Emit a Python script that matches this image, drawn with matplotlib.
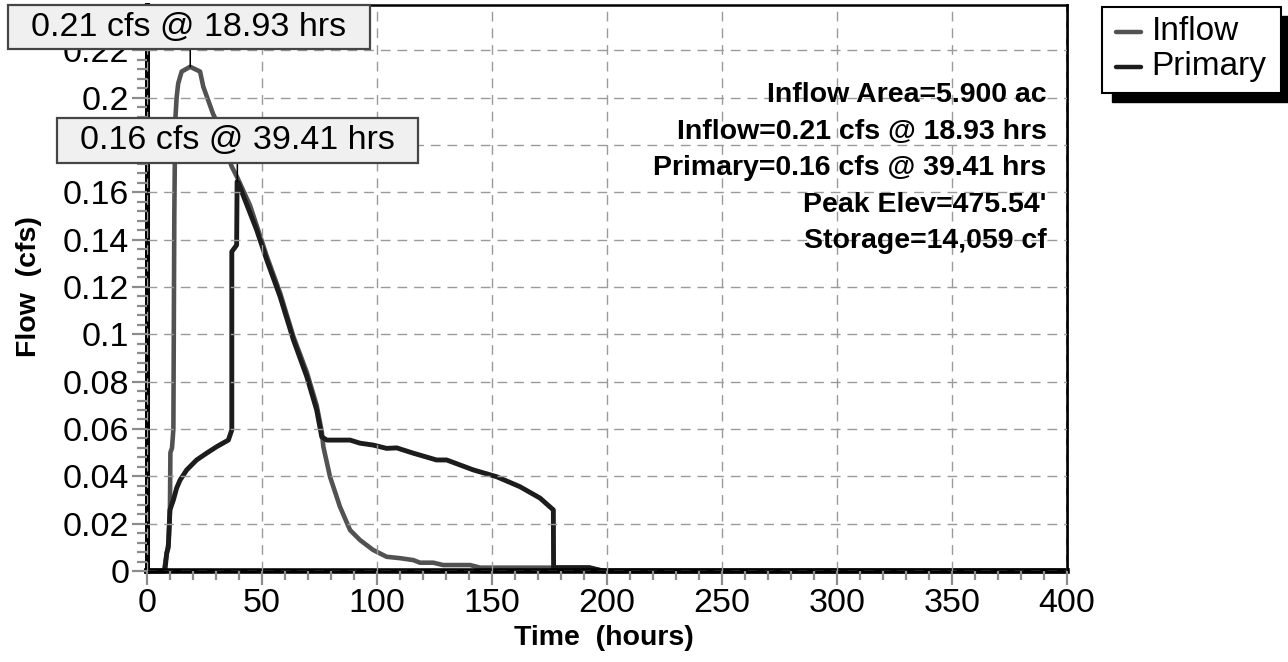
import matplotlib
matplotlib.use("Agg")
import matplotlib.pyplot as plt
from matplotlib.ticker import MultipleLocator, FuncFormatter
from matplotlib.patches import Rectangle
from matplotlib.lines import Line2D

# ---------------- data ----------------
inflow_hours = [0, 7.5, 8.5, 9.5, 10.1, 10.3, 11.0, 11.6, 12.0, 12.4, 13.0, 13.7, 15.2,
                18.9, 23.2, 24.6, 28.9, 30.4, 33.0, 36.9, 39.5, 44.9, 47.8, 52.2, 58.0,
                63.8, 69.6, 73.9, 76.1, 76.8, 79.7, 84.0, 88.4, 92.7, 98.4, 104.3, 110.2,
                115.9, 118.8, 124.6, 128.9, 140.6, 145.0, 176.0, 192.0, 198.0, 400]
inflow_cfs = [0, 0, 0.006, 0.012, 0.026, 0.050, 0.052, 0.060, 0.150, 0.190, 0.200, 0.206, 0.211,
              0.213, 0.211, 0.2046, 0.193, 0.190, 0.182, 0.171, 0.166, 0.1545, 0.146, 0.133, 0.1175,
              0.099, 0.084, 0.070, 0.059, 0.0525, 0.0398, 0.0272, 0.0173, 0.0131, 0.0089, 0.0060, 0.0054,
              0.0046, 0.0035, 0.0035, 0.0025, 0.0025, 0.0014, 0.0014, 0.0014, 0, 0]

primary_hours = [0, 7.9, 8.7, 9.4, 10.1, 11.6, 13.0, 14.5, 17.4, 21.7, 26.1, 30.4, 35.5,
                 37.0, 37.0, 39.1, 39.3, 39.8, 47.8, 52.2, 58.0, 63.8, 69.6, 73.9, 76.1,
                 78.3, 88.4, 92.7, 98.4, 104.3, 108.7, 115.8, 126.0, 130.4, 136.2, 142.0,
                 152.2, 162.3, 171.0, 176.8, 176.9, 192.6, 198.5, 400]
primary_cfs = [0, 0, 0.0076, 0.010, 0.0258, 0.030, 0.035, 0.0384, 0.0427, 0.0469, 0.0498, 0.0525, 0.0553,
               0.0596, 0.1349, 0.1377, 0.1645, 0.164, 0.1441, 0.1314, 0.1159, 0.0976, 0.0821, 0.068, 0.0567,
               0.0553, 0.0553, 0.054, 0.0532, 0.0518, 0.052, 0.0498, 0.0469, 0.0469, 0.0448, 0.0427,
               0.0398, 0.0356, 0.0308, 0.0258, 0.0014, 0.0014, 0, 0]

series_names = ["Inflow", "Primary"]
series_colors = ["#525252", "#1c1c1c"]
peak_times = [18.93, 39.41]
peak_labels = ["0.21 cfs @ 18.93 hrs", "0.16 cfs @ 39.41 hrs"]
info_lines = ["Inflow Area=5.900 ac",
              "Inflow=0.21 cfs @ 18.93 hrs",
              "Primary=0.16 cfs @ 39.41 hrs",
              "Peak Elev=475.54'",
              "Storage=14,059 cf"]
x_label = "Time  (hours)"
y_label = "Flow  (cfs)"

# ---------------- styling ----------------
plt.rcParams['font.family'] = ['Liberation Sans', 'DejaVu Sans']

fig = plt.figure(figsize=(12.88, 6.62), dpi=100)
fig.patch.set_facecolor("white")
ax = fig.add_axes([0.1139, 0.1375, 0.7143, 0.8549])

ax.plot(inflow_hours, inflow_cfs, color=series_colors[0], lw=3.3, zorder=2,
        solid_joinstyle='round', clip_on=False)
ax.plot(primary_hours, primary_cfs, color=series_colors[1], lw=3.5, zorder=2.1,
        solid_joinstyle='round', clip_on=False)

ax.set_xlim(0, 400)
ax.set_ylim(0, 0.2391)
ax.xaxis.set_major_locator(MultipleLocator(50))
ax.xaxis.set_minor_locator(MultipleLocator(10))
ax.yaxis.set_major_locator(MultipleLocator(0.02))
ax.yaxis.set_minor_locator(MultipleLocator(0.004))
ax.yaxis.set_major_formatter(FuncFormatter(lambda v, p: f"{v:g}" if abs(v) > 1e-9 else "0"))
ax.xaxis.set_major_formatter(FuncFormatter(lambda v, p: f"{v:g}"))

tick_col = "#8c8c8c"
ax.tick_params(axis='x', which='major', length=10, width=1.6, color=tick_col,
               labelsize=24.5, pad=2.5)
ax.tick_params(axis='x', which='minor', length=6.5, width=1.6, color=tick_col)
ax.tick_params(axis='y', which='major', length=11, width=1.6, color=tick_col,
               labelsize=24.5, pad=1.5)
ax.tick_params(axis='y', which='minor', length=7, width=1.6, color=tick_col)

ax.set_axisbelow(False)
ax.grid(which='major', color='#9a9a9a', linestyle=(0, (7, 5)), linewidth=1.0)

ax.spines['left'].set_linewidth(3.6)
ax.spines['bottom'].set_linewidth(4.0)
ax.spines['top'].set_linewidth(1.8)
ax.spines['right'].set_linewidth(2.0)
for s in ax.spines.values():
    s.set_color('black')

ax.set_xlabel(x_label, fontsize=20.5, fontweight='bold')
ax.set_ylabel(y_label, fontsize=20.5, fontweight='bold')
ax.xaxis.set_label_coords(0.497, -0.0954)
ax.yaxis.set_label_coords(-0.1133, 0.502)

# ---------------- info text ----------------
info_y = [0.8288, 0.7638, 0.6993, 0.6349, 0.5703]
for line, yy in zip(info_lines, info_y):
    ax.text(0.978, yy, line, transform=ax.transAxes, ha='right', va='baseline',
            fontsize=20.5, fontweight='bold', color='black', zorder=6)

# ---------------- peak annotation boxes ----------------
peak_flows = [max(inflow_cfs), max(primary_cfs)]
boxes = [(-0.1508, 0.9223, 0.3935, 0.0777),
         (-0.0978, 0.7208, 0.3930, 0.0796)]
for (bx, by, bw, bh), label, t, q in zip(boxes, peak_labels, peak_times, peak_flows):
    ax.annotate("", xy=(t, q), xycoords='data',
                xytext=(t, by), textcoords=('data', 'axes fraction'),
                arrowprops=dict(arrowstyle='-', color='black', lw=1.1,
                                shrinkA=0, shrinkB=0), zorder=4)
    ax.add_patch(Rectangle((bx, by), bw, bh, transform=ax.transAxes,
                           facecolor='#f0f0f0', edgecolor='#454545', lw=1.6,
                           clip_on=False, zorder=5))
    ax.text(bx + bw / 2, by + bh / 2, label, transform=ax.transAxes,
            ha='center', va='center', fontsize=24.5, color='black', zorder=6)

# ---------------- legend (with solid shadow) ----------------
fig.patches.append(Rectangle((0.8634, 0.8459), 0.139, 0.1299, transform=fig.transFigure,
                             facecolor='black', edgecolor='black', zorder=1))
fig.patches.append(Rectangle((0.8554, 0.8600), 0.1392, 0.1290, transform=fig.transFigure,
                             facecolor='white', edgecolor='black', lw=1.5, zorder=2))
leg_y = [0.9521, 0.8992]
for name, col, yy in zip(series_names, series_colors, leg_y):
    fig.lines.append(Line2D([0.8662, 0.8862], [yy, yy], transform=fig.transFigure,
                            color=col, lw=3.2, solid_capstyle='round', zorder=3))
    fig.text(0.8942, yy, name, ha='left', va='center', fontsize=24, color='black', zorder=4)

fig.savefig("out.png", dpi=100)
